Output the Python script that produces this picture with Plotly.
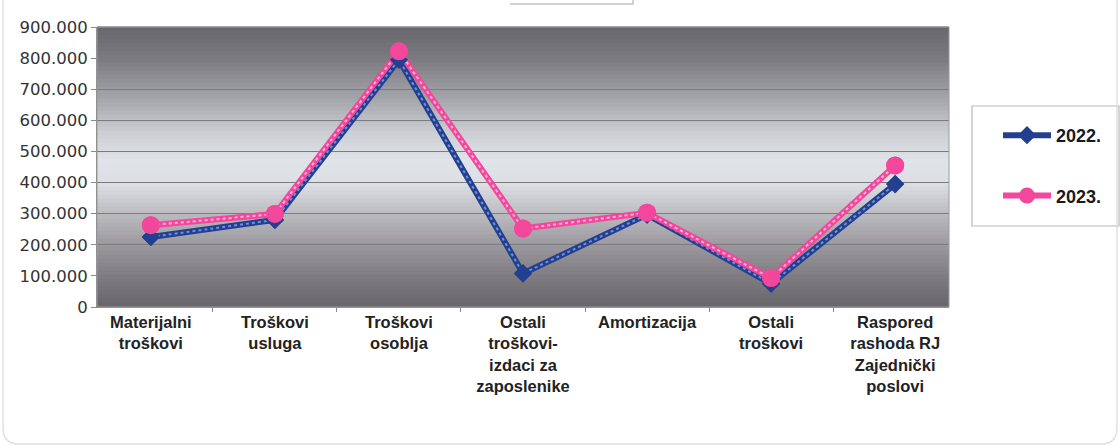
import plotly.graph_objects as go

categories = [
    "Materijalni<br>troškovi",
    "Troškovi<br>usluga",
    "Troškovi<br>osoblja",
    "Ostali<br>troškovi-<br>izdaci za<br>zaposlenike",
    "Amortizacija",
    "Ostali<br>troškovi",
    "Raspored<br>rashoda RJ<br>Zajednički<br>poslovi",
]
values_2022 = [225000, 280000, 795000, 108000, 297000, 75000, 395000]
values_2023 = [263000, 299000, 822000, 252000, 303000, 93000, 455000]
series_names = ["2022.", "2023."]
y_ticks = [0, 100000, 200000, 300000, 400000, 500000, 600000, 700000, 800000, 900000]

W, H = 1120, 448
L, R, T, B = 97, 949, 27, 307
PW, PH = R - L, B - T


def px(x):
    return (x - L) / PW


def py(y):
    return (B - y) / PH


FONT = "Liberation Sans, Arial, sans-serif"
BLUE = "#233f8f"
BLUE_DOT = "#6f8fd8"
PINK = "#f2479b"
PINK_DOT = "#ffb3d9"

specs = [
    (series_names[0], values_2022, BLUE, BLUE_DOT, "diamond", 14),
    (series_names[1], values_2023, PINK, PINK_DOT, "circle", 18),
]

fig = go.Figure()

for name, vals, col, dotcol, sym, msize in specs:
    fig.add_trace(go.Scatter(
        x=categories, y=vals, mode="lines+markers", name=name, legendgroup=name,
        line=dict(color=col, width=6),
        marker=dict(symbol=sym, size=msize, color=col, line=dict(width=0)),
    ))
    fig.add_trace(go.Scatter(
        x=categories, y=vals, mode="lines", line=dict(color=dotcol, width=2, dash="dot"),
        showlegend=False, hoverinfo="skip", legendgroup=name))

for name, vals, col, dotcol, sym, msize in specs:
    fig.add_trace(go.Scatter(
        x=categories, y=vals, mode="markers", showlegend=False, legendgroup=name,
        marker=dict(symbol=sym, size=msize, color=col, line=dict(width=0)),
    ))

# gradient background bands
stops = [
    (0.00, (104, 103, 108)), (0.12, (124, 123, 128)), (0.25, (162, 163, 168)),
    (0.38, (203, 206, 211)), (0.48, (224, 228, 233)), (0.56, (220, 224, 228)),
    (0.66, (190, 190, 195)), (0.78, (155, 153, 158)), (0.90, (124, 122, 127)),
    (1.00, (104, 102, 106)),
]


def interp(t):
    for (t0, c0), (t1, c1) in zip(stops[:-1], stops[1:]):
        if t0 <= t <= t1:
            f = (t - t0) / (t1 - t0) if t1 > t0 else 0
            return tuple(int(round(c0[i] + f * (c1[i] - c0[i]))) for i in range(3))
    return stops[-1][1]


shapes = []
N = 70
for i in range(N):
    t0 = i / N
    t1 = (i + 1) / N
    c = interp((t0 + t1) / 2)
    shapes.append(dict(
        type="rect", xref="x domain", yref="y domain",
        x0=0, x1=1, y0=1 - t1, y1=1 - t0 + 0.002,
        fillcolor="rgb(%d,%d,%d)" % c, line=dict(width=0), layer="below"))

shapes.append(dict(type="rect", xref="x domain", yref="y domain", x0=0, x1=1, y0=0, y1=1,
                   line=dict(color="#9a9a9a", width=1), layer="above"))

# legend box
shapes.append(dict(type="rect", xref="paper", yref="paper",
                   x0=px(972), x1=px(1119), y0=py(226), y1=py(106),
                   line=dict(color="#b8b8b8", width=1.2), fillcolor="white", layer="below"))

# outer rounded border (top cut off)
x0, x1, yb, r = px(3), px(1117), py(444), 16
rx, ry = r / PW, r / PH
ytop = py(-20)
path = (f"M {x0},{ytop} L {x0},{yb + ry} Q {x0},{yb} {x0 + rx},{yb} "
        f"L {x1 - rx},{yb} Q {x1},{yb} {x1},{yb + ry} L {x1},{ytop}")
shapes.append(dict(type="path", xref="paper", yref="paper", path=path,
                   line=dict(color="#e0e0e0", width=1.5), layer="below"))

# title box remnant at top
shapes.append(dict(type="path", xref="paper", yref="paper",
                   path=f"M {px(510)},{py(4)} L {px(633)},{py(4)} L {px(633)},{py(-10)}",
                   line=dict(color="#c4c4c4", width=1.5), layer="below"))

fig.update_layout(
    width=W, height=H,
    margin=dict(l=L, r=W - R, t=T, b=H - B),
    paper_bgcolor="white", plot_bgcolor="#d0d2d6",
    separators=",.",
    font=dict(family=FONT, size=16, color="#222"),
    shapes=shapes,
    showlegend=True,
    legend=dict(
        x=px(998), y=py(117), xanchor="left", yanchor="top",
        bgcolor="rgba(0,0,0,0)", borderwidth=0,
        font=dict(family=FONT, size=18, color="#1a1a1a", weight="bold"),
        tracegroupgap=34, itemwidth=48,
    ),
)

fig.update_xaxes(
    showgrid=False, ticks="outside", tickson="boundaries", ticklen=4,
    tickcolor="#888", showline=True, linecolor="#888",
    tickfont=dict(family=FONT, size=16.5, color="#222", weight="bold"),
)
fig.update_yaxes(
    range=[0, 900000], tickvals=y_ticks, tickformat=",d",
    showgrid=True, gridcolor="#7c7c80", gridwidth=1,
    ticks="outside", ticklen=5, tickcolor="#888", showline=True, linecolor="#888",
    tickfont=dict(family="DejaVu Sans, sans-serif", size=16.5, color="#333"), zeroline=False,
)

fig.write_html("out.html", config={"displayModeBar": False},
               post_script="document.body.style.margin='0';")
